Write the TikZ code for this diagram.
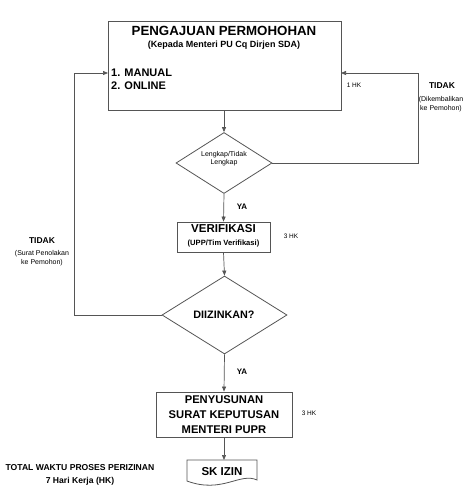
\documentclass[tikz,border=0pt]{standalone}
\usepackage{fontspec}
\setmainfont{Liberation Sans}
\usetikzlibrary{arrows.meta,shapes.geometric}
\definecolor{linegray}{HTML}{555555}
\tikzset{
  boxshape/.style={draw=linegray, line width=0.8pt, inner sep=0pt},
  decshape/.style={draw=linegray, line width=0.8pt, diamond, inner sep=0pt},
  conn/.style={draw=linegray, line width=0.7pt},
  arr/.style={conn, -{Triangle[length=5pt,width=4pt]}},
  lbl/.style={inner sep=0pt, align=center, text=black},
  fs/.style n args={2}{font=\fontsize{#1}{#2}\selectfont},
}
\begin{document}
\begin{tikzpicture}[x=1pt,y=-1pt]
\useasboundingbox (0,0) rectangle (474,491);
\fill[white] (0,0) rectangle (474,491);

% main box
\node[boxshape, minimum width=233pt, minimum height=89pt] (main) at (224.5,65.5) {};
\node[lbl, fs={13.3}{15}, font=\bfseries\fontsize{13.3}{15}\selectfont] (t1) at (224,31) {PENGAJUAN PERMOHOHAN};
\node[lbl, font=\bfseries\fontsize{9}{11}\selectfont] (t2) at (224,45.5) {(Kepada Menteri PU Cq Dirjen SDA)};
\node[lbl, anchor=west, align=left, font=\bfseries\fontsize{11}{13}\selectfont] (t3) at (111,79.5) {1. MANUAL\\2. ONLINE};

% decision 1
\node[decshape, minimum width=96pt, minimum height=61pt] (d1) at (224,163) {};
\node[lbl, font=\fontsize{7}{8.5}\selectfont] (d1t) at (224,158.5) {Lengkap/Tidak\\Lengkap};

% verifikasi
\node[boxshape, minimum width=93pt, minimum height=30pt] (ver) at (223.5,237) {};
\node[lbl, font=\bfseries\fontsize{11.5}{13}\selectfont] (vert1) at (223.5,229) {VERIFIKASI};
\node[lbl, font=\bfseries\fontsize{7.6}{9}\selectfont] (vert2) at (223.5,243.5) {(UPP/Tim Verifikasi)};

% decision 2
\node[decshape, minimum width=125pt, minimum height=78pt] (d2) at (224.5,315) {};
\node[lbl, font=\bfseries\fontsize{10.8}{12}\selectfont] (d2t) at (224,315) {DIIZINKAN?};

% penyusunan
\node[boxshape, minimum width=136pt, minimum height=45pt] (pen) at (224,414.5) {};
\node[lbl, font=\bfseries\fontsize{11.2}{15}\selectfont] (pent) at (224,414.5) {PENYUSUNAN\\SURAT KEPUTUSAN\\MENTERI PUPR};

% SK IZIN document
\coordinate (skTL) at (187,460);
\coordinate (skTR) at (257,460);
\draw[draw=linegray, line width=0.8pt] (skTL) -- (skTR) -- (257,480)
  .. controls (240,472) and (222,494) .. (187,481) -- cycle;
\node[lbl, font=\bfseries\fontsize{11.5}{13}\selectfont] (sk) at (222,472) {SK IZIN};
\coordinate (skTop) at (224,460);

% connectors
\draw[arr] (main.south -| 224,0) -- (d1.north);
\draw[arr] (d1.south) -- (ver.north);
\draw[arr] (ver.south) -- (d2.north);
\draw[arr] (d2.south) -- (pen.north);
\draw[arr] (pen.south) -- (skTop);

\coordinate (inR) at (341,73);
\coordinate (inL) at (108,73);
\coordinate (cR) at (418,163);
\coordinate (cL) at (74,315);
\draw[arr] (d1.east) -- (cR) |- (inR);
\draw[arr] (d2.west) -- (cL) |- (inL);

% labels
\node[lbl, font=\fontsize{6.5}{8}\selectfont] (hk1) at (354,85) {1 HK};
\node[lbl, font=\bfseries\fontsize{8.5}{10}\selectfont] (tdkR) at (442,86) {TIDAK};
\node[lbl, font=\fontsize{7}{8.5}\selectfont] (tdkRs) at (441,104) {(Dikembalikan\\ke Pemohon)};
\node[lbl, font=\bfseries\fontsize{8}{9}\selectfont] (ya1) at (242,207) {YA};
\node[lbl, font=\fontsize{6.5}{8}\selectfont] (hk3a) at (291,236) {3 HK};
\node[lbl, font=\bfseries\fontsize{8.5}{10}\selectfont] (tdkL) at (42,241) {TIDAK};
\node[lbl, font=\fontsize{7}{8.5}\selectfont] (tdkLs) at (42,258) {(Surat Penolakan\\ke Pemohon)};
\node[lbl, font=\bfseries\fontsize{8}{9}\selectfont] (ya2) at (242,372) {YA};
\node[lbl, font=\fontsize{6.5}{8}\selectfont] (hk3b) at (309,413) {3 HK};
\node[lbl, font=\bfseries\fontsize{8.6}{12.5}\selectfont] (total) at (80,475) {TOTAL WAKTU PROSES PERIZINAN\\7 Hari Kerja (HK)};
\end{tikzpicture}
\end{document}
